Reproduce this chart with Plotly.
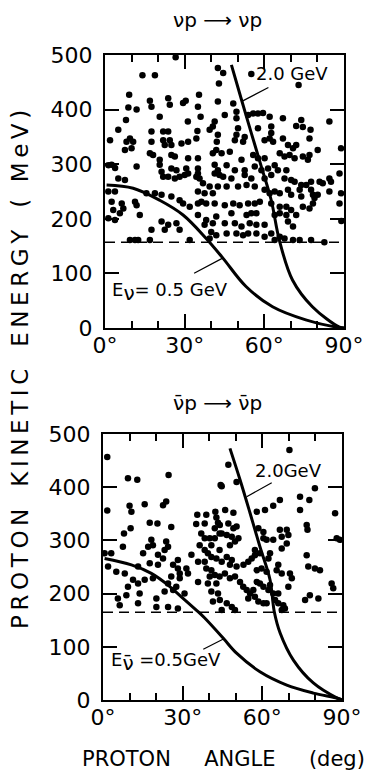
import plotly.graph_objects as go

# ---------------- data ----------------
top_title = "νp ⟶ νp"
bot_title = "ν̄p ⟶ ν̄p"
x_tick_vals = [0, 30, 60, 90]
x_tick_text = ["0°", "30°", "60°", "90°"]
y_tick_vals = [0, 100, 200, 300, 400, 500]
y_tick_text = ["0", "100", "200", "300", "400", "500"]
y_title_words = ["PROTON", "KINETIC", "ENERGY", "( MeV)"]
x_title_words = ["PROTON", "ANGLE", "(deg)"]

top_angle = [26.6, 14.1, 18.8, 42.5, 42.9, 9.1, 16.9, 17.5, 23.8, 24.4, 29.4, 30.4, 35.4, 42.5, 8.8, 11.9, 20.6, 35, 36, 31.2,
             41.3, 40.6, 39.4, 7.9, 5, 17.5, 21.9, 23.8, 34.8, 42.5, 42.1, 1.9, 9.4, 10.6, 8.1, 10, 7.5, 17.5, 21.9, 24.4,
             25, 22.5, 28.8, 31.3, 34.4, 41.9, 40.6, 16.9, 18.1, 25, 26.3, 31.3, 35, 20.6, 20.6, 21.3, 21.9, 2.5, 3.8, 11.9,
             25, 26.9, 30.6, 31.3, 35, 35, 41.3, 42.5, 41.3, 43.1, 23.8, 26.3, 28.1, 30, 34.4, 35.6, 5, 7.5, 36.9, 39.4,
             1.25, 3.75, 15.6, 18.8, 21.3, 35, 37.5, 40.6, 42.5, 2.5, 6.3, 11.3, 11.9, 6.9, 3.1, 28.1, 29.4, 31.9, 35, 36.3,
             38.1, 41.3, 25, 5.6, 13.1, 1.25, 3.75, 21.3, 23.8, 22.5, 26.9, 28.1, 35, 38.1, 40.6, 37.5, 41.9, 17.5, 40, 41.9,
             39.4, 31.9, 9.4, 11.3, 12.5, 16.9, 1.2,
             44.5, 55.1, 72.9, 48.3, 45.1, 49.5, 49.5, 53.9, 55.8, 57.6, 59.5, 62, 67, 72, 74.5, 73.9, 77.4, 84.5, 50.1, 49.5,
             48.9, 52.6, 52, 57.6, 62.6, 62.6, 62, 60.1, 63.3, 67, 68.9, 70.8, 72, 77, 80.1, 88.9, 43.9, 47, 51.4, 55.8,
             57.6, 60.1, 65.8, 67.6, 69.5, 71.4, 74.5, 76.4, 77, 45.8, 48.9, 52.6, 56.4, 58.9, 61.4, 63.9, 65.1, 68.3, 67.6, 70.1,
             71.4, 73.9, 75.8, 77.6, 80.8, 82, 84.5, 85.1, 88.3, 44.5, 47.6, 52.6, 55.1, 60.1, 62.6, 45.8, 50.1, 53.3, 56.4, 60.1,
             62, 63.9, 65.8, 68.9, 70.1, 73.3, 73.9, 77.6, 78.3, 78.9, 80.1, 84.5, 88.9, 88.3, 45.1, 48.3, 50.7, 53.9, 56.4, 58.3,
             62.6, 65.8, 68.3, 70.1, 74.5, 77, 78.3, 47.6, 53.3, 55.1, 57, 63.9, 65.8, 68.3, 72, 89, 45.1, 48.9, 51.4, 54.5,
             57, 60.1, 68.9, 70.8, 45.8, 49.5, 52, 53.9, 57, 60.1, 62.6, 65.8, 63.9, 67.6, 70.8, 73.3, 77.6, 82.6]
top_energy = [496, 463, 463, 476, 448, 427, 416, 405, 421, 409, 412, 416, 427, 415, 404, 400, 387, 405, 387, 378,
              378, 369, 363, 381, 363, 360, 360, 360, 361, 354, 341, 344, 347, 341, 341, 329, 326, 341, 344, 344,
              335, 335, 338, 341, 347, 326, 320, 320, 317, 317, 314, 311, 311, 308, 299, 286, 277, 299, 293, 296,
              292, 289, 292, 283, 292, 283, 299, 289, 283, 280, 277, 274, 277, 280, 277, 274, 274, 271, 265, 259,
              250, 250, 247, 247, 244, 250, 247, 247, 259, 231, 228, 231, 225, 219, 216, 234, 228, 222, 228, 231,
              228, 228, 241, 210, 207, 201, 198, 195, 189, 180, 192, 180, 207, 198, 192, 189, 204, 180, 176, 170,
              164, 161, 161, 161, 161, 161, 298,
              467, 465, 445, 411, 390, 396, 384, 390, 393, 393, 394, 387, 384, 370, 368, 381, 363, 378, 366, 354,
              344, 350, 341, 366, 369, 357, 347, 344, 341, 347, 335, 329, 335, 347, 326, 329, 320, 323, 308, 317,
              311, 311, 320, 314, 317, 311, 314, 308, 317, 298, 289, 289, 296, 289, 292, 298, 289, 289, 274, 271,
              268, 262, 262, 268, 268, 265, 274, 268, 283, 277, 274, 280, 274, 274, 280, 259, 259, 262, 259, 253,
              247, 250, 247, 253, 244, 253, 241, 253, 244, 238, 244, 250, 247, 228, 225, 228, 225, 228, 228, 231,
              228, 222, 222, 216, 222, 219, 228, 210, 207, 210, 210, 207, 210, 207, 207, 196, 192, 192, 186, 192,
              189, 189, 195, 186, 173, 173, 170, 173, 173, 167, 173, 167, 161, 164, 161, 161, 161, 157]

bot_angle = [1.6, 9.4, 12.9, 24.7, 44.3, 10, 10.7, 15.7, 22.6, 23.8, 1.6, 17.6, 20.5, 25.7, 10.4, 7.9, 35.5, 38.9, 42.3, 42.7,
             35.1, 38.3, 42.1, 43.3, 37, 38.3, 40.2, 42.1, 43.9, 7.5, 18.2, 18.8, 17, 23.8, 24.5, 23.2, 36.4, 38.3, 40.8, 39.5,
             43.9, 0.6, 3.1, 15.1, 20.7, 22.6, 33.3, 28.2, 26.4, 40.8, 42.7, 35.8, 38.3, 1.9, 5, 13.2, 17.6, 20.7, 28.2, 28.9,
             25.7, 28.9, 31.4, 32, 38.9, 40.8, 40.2, 42.1, 43.9, 8.2, 11.3, 15.7, 18.8, 24.5, 27.6, 35.8, 39.5, 42.7, 9.4, 13.2,
             8.8, 5.6, 13.8, 23.2, 26.4, 30.7, 40.8, 43.3, 6.3, 13.2, 20.1, 20.1, 24.5, 28.2, 41.4,
             47.2, 50.3, 44.7, 70.2, 79.8, 74.2, 77.7, 74.2, 66.6, 64.1, 61, 57.9, 46, 49.1, 87.4, 76.7, 77, 44, 47.2, 49.1,
             50.3, 58.5, 60.4, 66.6, 69.2, 69.8, 67.3, 64.1, 61.6, 60.4, 44.7, 46.6, 48.5, 51, 49.7, 47.8, 88, 89.2, 69.2, 67.3,
             57.2, 59.1, 57.2, 56, 54.7, 62.9, 62.3, 46.6, 48.5, 44.7, 47.8, 50.3, 52.9, 76.7, 66, 65.4, 67.3, 70.4, 71.1, 59.7,
             61.6, 57.9, 77.3, 79.8, 81.7, 45.9, 47.8, 49.7, 51.6, 52.8, 54.1, 55.4, 54.7, 57.9, 59.1, 60.4, 62.9, 62.3, 64.1, 66,
             64.8, 56.6, 57.2, 58.5, 60.4, 86.1, 86.7, 77.9, 76.1, 81.1, 69.8, 44, 46.6, 48.5, 49.7, 44.7, 61.6, 66, 67.9, 67.3,
             68.5]
bot_energy = [457, 417, 414, 423, 404, 365, 354, 368, 366, 373, 356, 333, 332, 325, 323, 313, 348, 348, 354, 343,
              331, 332, 323, 333, 313, 304, 304, 304, 313, 288, 301, 291, 288, 298, 288, 282, 291, 282, 291, 276,
              282, 276, 276, 276, 273, 266, 273, 263, 254, 269, 266, 260, 260, 251, 241, 251, 257, 254, 247, 238,
              232, 229, 247, 238, 247, 244, 232, 235, 232, 238, 226, 226, 229, 219, 213, 222, 219, 219, 213, 219,
              197, 191, 200, 204, 207, 200, 204, 200, 178, 182, 191, 175, 175, 172, 185,
              442, 410, 402, 470, 398, 382, 376, 357, 376, 365, 357, 354, 357, 352, 351, 329, 320, 329, 332, 323,
              326, 323, 316, 320, 320, 310, 307, 301, 301, 304, 313, 310, 307, 304, 298, 291, 304, 301, 294, 285,
              282, 276, 272, 266, 260, 276, 266, 269, 263, 260, 254, 251, 254, 272, 254, 244, 238, 238, 229, 247,
              241, 244, 251, 247, 244, 238, 229, 232, 222, 213, 207, 200, 191, 222, 219, 213, 216, 207, 200, 200,
              188, 207, 194, 185, 182, 219, 210, 197, 188, 191, 213, 188, 182, 175, 169, 169, 182, 182, 178, 169,
              172]

# kinematic curves
top_c05_angle = [0.6, 10.6, 20.6, 29.4, 38.1, 44.4, 53.1, 63.1, 75.6, 88, 90]
top_c05_energy = [262, 256, 234, 207, 164, 128, 76, 39, 15, 1, 0]
top_c20_angle = [47.6, 51.4, 55.1, 58.9, 62.6, 65.7, 70.6, 78.1, 88.1, 90]
top_c20_energy = [482, 418, 357, 295, 234, 160, 88, 39, 2, 0]
bot_c05_angle = [0.6, 10.7, 18.2, 24.5, 29.5, 35.8, 38.3, 45.3, 50.3, 59.1, 69.2, 79.2, 88.6, 90]
bot_c05_energy = [266, 254, 238, 216, 194, 166, 154, 116, 88, 53, 28, 13, 3, 0]
bot_c20_angle = [47.8, 51.6, 55.4, 59.1, 62.9, 64.5, 66.7, 71.7, 79.2, 88, 90]
bot_c20_energy = [473, 414, 351, 288, 226, 166, 126, 75, 32, 4, 0]

top_cut = 157
bot_cut = 165

# ---------------- figure ----------------
W, H = 375, 778
FONT = "DejaVu Sans"
THIN = "\u2009"
NB = "\u00a0"
fig = go.Figure()

def add_panel(xa, ya, ang, en, c05a, c05e, c20a, c20e, cut):
    fig.add_trace(go.Scatter(x=ang, y=en, mode="markers", xaxis=xa, yaxis=ya,
                             marker=dict(size=6.5, color="black"), showlegend=False, hoverinfo="skip"))
    fig.add_trace(go.Scatter(x=[0, 90], y=[cut, cut], mode="lines", xaxis=xa, yaxis=ya,
                             line=dict(color="black", width=1.5, dash="10px,6px"), showlegend=False))
    for a, e in ((c05a, c05e), (c20a, c20e)):
        fig.add_trace(go.Scatter(x=a, y=e, mode="lines", xaxis=xa, yaxis=ya, line_shape="spline",
                                 line=dict(color="black", width=3), showlegend=False))

add_panel("x", "y", top_angle, top_energy, top_c05_angle, top_c05_energy, top_c20_angle, top_c20_energy, top_cut)
add_panel("x2", "y2", bot_angle, bot_energy, bot_c05_angle, bot_c05_energy, bot_c20_angle, bot_c20_energy, bot_cut)

def xax(domain, anchor):
    return dict(domain=domain, anchor=anchor, range=[0, 90], tickvals=x_tick_vals, ticktext=x_tick_text,
                ticks="inside", ticklen=14, tickwidth=2, tickcolor="black", mirror="ticks",
                minor=dict(dtick=10, ticks="inside", ticklen=7, tickwidth=2, tickcolor="black"),
                showline=True, linewidth=2, linecolor="black", showgrid=False, zeroline=False,
                automargin=False,
                tickfont=dict(family=FONT, size=22, color="black"), ticklabelstandoff=-3)

def yax(domain, anchor):
    return dict(domain=domain, anchor=anchor, range=[0, 500], tickvals=y_tick_vals, ticktext=y_tick_text,
                ticks="inside", ticklen=14, tickwidth=2, tickcolor="black", mirror="ticks",
                showline=True, linewidth=2, linecolor="black", showgrid=False, zeroline=False,
                automargin=False,
                tickfont=dict(family=FONT, size=22, color="black"), ticklabelstandoff=6)

fig.update_layout(
    width=W, height=H, margin=dict(l=0, r=0, t=0, b=0, autoexpand=False),
    paper_bgcolor="white", plot_bgcolor="white", showlegend=False,
    font=dict(family=FONT, color="black"),
    xaxis=xax([105 / W, 344 / W], "y"),
    yaxis=yax([(H - 328) / H, (H - 55) / H], "x"),
    xaxis2=xax([103 / W, 342 / W], "y2"),
    yaxis2=yax([(H - 700) / H, (H - 434) / H], "x2"),
)

def spaced(word):
    return THIN.join(word)

y_title = (NB * 3).join(spaced(w) for w in y_title_words)
x_title = (NB * 5).join(x_title_words)

ann = []
# panel titles
ann.append(dict(text=top_title, x=217 / W, y=1 - 20 / H, xref="paper", yref="paper", showarrow=False,
                xanchor="center", yanchor="middle", font=dict(size=20, family=FONT)))
ann.append(dict(text=bot_title, x=217 / W, y=1 - 403 / H, xref="paper", yref="paper", showarrow=False,
                xanchor="center", yanchor="middle", font=dict(size=20, family=FONT)))
# axis titles
ann.append(dict(text=y_title, x=20 / W, y=1 - 370 / H, xref="paper", yref="paper",
                xanchor="center", yanchor="middle",
                showarrow=False, textangle=-90, font=dict(size=23, family=FONT)))
ann.append(dict(text=x_title, x=223 / W, y=1 - 759 / H, xref="paper", yref="paper",
                xanchor="center", yanchor="middle",
                showarrow=False, font=dict(size=21, family=FONT)))
# curve labels with leader lines
for xr, yr, lab_x, lab_y, lab, p0, p1 in (
    ("x", "y", 70.5, 467, "2.0 GeV", (51.9, 416), (62.1, 442)),
    ("x", "y", 24.4, 66, "E<sub><span style='font-size:20px'>ν</span></sub>= 0.5 GeV", (44.3, 128), (33, 99)),
    ("x2", "y2", 70, 432, "2.0GeV", (54.1, 382), (64.1, 410)),
    ("x2", "y2", 23.7, 71, "E<sub><span style='font-size:20px'>ν̄</span></sub> =0.5GeV", (45.9, 116), (37.2, 94)),
):
    ann.append(dict(text=lab, x=lab_x, y=lab_y, xref=xr, yref=yr, showarrow=False,
                    xanchor="center", yanchor="middle", font=dict(size=18, family=FONT)))
    ann.append(dict(text="", x=p0[0], y=p0[1], ax=p1[0], ay=p1[1], xref=xr, yref=yr, axref=xr, ayref=yr,
                    showarrow=True, arrowhead=0, arrowwidth=1.2, arrowcolor="black"))
fig.update_layout(annotations=ann)

fig.write_html("out.html")
